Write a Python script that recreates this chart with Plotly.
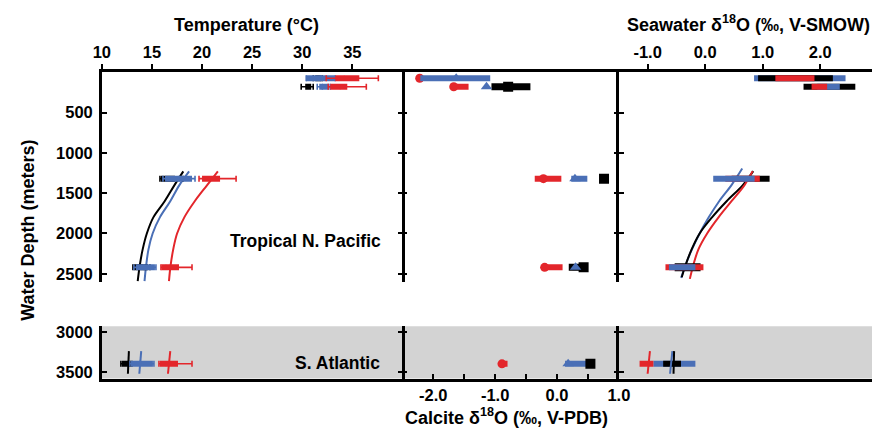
import plotly.graph_objects as go

RED = "#E3262B"
BLUE = "#4A6FB6"
BLACK = "#000000"
GRAY = "#D3D3D3"
FONT = "Liberation Sans, Arial, Helvetica, sans-serif"

# ---------------- data ----------------
# sample depths (m): four Tropical N. Pacific rows, then one S. Atlantic row
depths = [75, 180, 1320, 2420, 3400]

# Temperature (°C): centre, thick bar lo/hi, whisker lo/hi
temp_black_c = [31.6, 30.6, 16.6, 13.8, 12.5]
temp_black_lo = [31.3, 30.3, 15.9, 13.2, 12.0]
temp_black_hi = [31.9, 30.9, 17.3, 14.6, 12.9]
temp_black_wlo = [31.1, 29.9, 15.8, 13.1, 11.9]
temp_black_whi = [32.0, 31.1, 18.1, 14.8, 13.0]

temp_blue_c = [31.8, 32.0, 17.7, 14.2, 13.8]
temp_blue_lo = [30.4, 31.7, 16.3, 13.4, 12.9]
temp_blue_hi = [33.3, 32.7, 19.0, 15.3, 15.1]
temp_blue_wlo = [30.4, 31.5, 16.1, 13.2, 12.8]
temp_blue_whi = [33.3, 32.8, 19.3, 15.4, 15.2]

temp_red_c = [34.2, 33.8, 20.8, 16.4, 16.4]
temp_red_lo = [33.3, 32.8, 20.0, 15.95, 15.8]
temp_red_hi = [35.7, 34.5, 21.8, 17.7, 17.6]
temp_red_wlo = [32.4, 32.6, 19.7, 15.9, 15.7]
temp_red_whi = [37.6, 36.4, 23.4, 19.0, 19.0]

# Calcite d18O (permil, V-PDB): centre, thick bar lo/hi
calc_red_c = [-2.22, -1.67, -0.22, -0.20, -0.89]
calc_red_lo = [-2.22, -1.67, -0.36, -0.24, -0.89]
calc_red_hi = [-2.22, -1.43, 0.07, 0.09, -0.80]

calc_blue_c = [-1.63, -1.14, 0.29, 0.30, 0.18]
calc_blue_lo = [-2.21, -1.14, 0.23, 0.25, 0.13]
calc_blue_hi = [-1.08, -1.14, 0.49, 0.35, 0.50]

calc_black_c = [None, -0.79, 0.76, 0.43, 0.54]
calc_black_lo = [None, -1.06, 0.76, 0.19, 0.54]
calc_black_hi = [None, -0.43, 0.76, 0.49, 0.54]

# Seawater d18O (permil, V-SMOW): bar lo/hi
sw_black_lo = [0.92, 1.71, 0.46, -0.53, -0.73]
sw_black_hi = [2.22, 2.61, 1.12, -0.08, -0.42]
sw_blue_lo = [0.85, 1.95, 0.14, -0.63, -0.90]
sw_blue_hi = [2.44, 2.34, 0.86, -0.17, -0.17]
sw_red_lo = [1.22, 1.85, 0.35, -0.69, -1.14]
sw_red_hi = [1.90, 2.12, 0.95, -0.03, -0.90]

# Modelled profiles (Tropical N. Pacific)
prof_depth = [1230, 1400, 1600, 1800, 2000, 2200, 2400, 2590]
temp_prof_black = [18.13, 17.25, 16.27, 15.14, 14.49, 14.07, 13.78, 13.58]
temp_prof_blue = [18.71, 17.74, 16.83, 15.79, 15.07, 14.65, 14.42, 14.26]
temp_prof_red = [21.58, 20.51, 19.27, 18.23, 17.51, 17.12, 16.86, 16.70]

sw_prof_depth_blue = [1195, 1400, 1600, 1800, 2000, 2200, 2400, 2550]
sw_prof_blue = [0.644, 0.458, 0.243, 0.062, -0.096, -0.232, -0.345, -0.418]
sw_prof_depth_black = [1227, 1400, 1600, 1800, 2000, 2200, 2400, 2543]
sw_prof_black = [0.836, 0.655, 0.373, 0.119, -0.096, -0.237, -0.345, -0.407]
sw_prof_depth_red = [1227, 1400, 1600, 1800, 2000, 2200, 2400, 2563]
sw_prof_red = [0.825, 0.684, 0.458, 0.232, 0.034, -0.119, -0.209, -0.266]

# S. Atlantic profile segments
sa_seg_depth = [3240, 3525]
sa_temp_black = [12.70, 12.60]
sa_temp_blue = [13.93, 13.74]
sa_temp_red = [16.83, 16.60]
sa_sw_black = [-0.54, -0.55]
sa_sw_blue = [-0.57, -0.61]
sa_sw_red = [-0.96, -1.00]

# axis ticks
temp_ticks = [10, 15, 20, 25, 30, 35]
calc_ticks = [-2.0, -1.0, 0.0, 1.0]
calc_ticktext = ["-2.0", "-1.0", "0.0", "1.0"]
calc_minor_ticks = [-2.5, -1.5, -0.5, 0.5]
sw_ticks = [-1.0, 0.0, 1.0, 2.0]
sw_ticktext = ["-1.0", "0.0", "1.0", "2.0"]
depth_ticks_top = [500, 1000, 1500, 2000, 2500]
depth_ticks_bot = [3000, 3500]

# ---------------- figure ----------------
W, H = 883, 429
fig = go.Figure()

N_TOP = 4  # first four rows in top panels


def axes_for(panel, row):
    top = row < N_TOP
    idx = panel + 1 + (0 if top else 3)
    xa = "x" if idx == 1 else f"x{idx}"
    ya = "y" if idx == 1 else f"y{idx}"
    return xa, ya


def bars(panel, lo, hi, color, width, rows=None):
    rows = rows if rows is not None else range(len(depths))
    for top in (True, False):
        xs, ys = [], []
        for i in rows:
            if (i < N_TOP) != top or lo[i] is None:
                continue
            xs += [lo[i], hi[i], None]
            ys += [depths[i], depths[i], None]
        if not xs:
            continue
        xa, ya = axes_for(panel, 0 if top else N_TOP)
        fig.add_trace(go.Scatter(x=xs, y=ys, mode="lines", xaxis=xa, yaxis=ya,
                                 line=dict(color=color, width=width),
                                 hoverinfo="skip", connectgaps=False))


def points(panel, c, color, symbol, size, wlo=None, whi=None):
    for top in (True, False):
        idx = [i for i in range(len(depths)) if (i < N_TOP) == top and c[i] is not None]
        if not idx:
            continue
        xa, ya = axes_for(panel, 0 if top else N_TOP)
        kw = {}
        if wlo is not None:
            kw["error_x"] = dict(type="data", symmetric=False,
                                 array=[whi[i] - c[i] for i in idx],
                                 arrayminus=[c[i] - wlo[i] for i in idx],
                                 color=color, thickness=1.6, width=3)
        fig.add_trace(go.Scatter(x=[c[i] for i in idx], y=[depths[i] for i in idx],
                                 mode="markers", xaxis=xa, yaxis=ya,
                                 marker=dict(color=color, symbol=symbol, size=size),
                                 **kw))


def curve(panel, x, y, color, top=True, width=2):
    xa, ya = axes_for(panel, 0 if top else N_TOP)
    fig.add_trace(go.Scatter(x=x, y=y, mode="lines", xaxis=xa, yaxis=ya,
                             line=dict(color=color, width=width, shape="spline"),
                             hoverinfo="skip"))


# ---- Temperature panel ----
curve(0, temp_prof_black, prof_depth, BLACK)
curve(0, temp_prof_blue, prof_depth, BLUE)
curve(0, temp_prof_red, prof_depth, RED)
curve(0, sa_temp_black, sa_seg_depth, BLACK, top=False)
curve(0, sa_temp_blue, sa_seg_depth, BLUE, top=False)
curve(0, sa_temp_red, sa_seg_depth, RED, top=False)
points(0, temp_black_c, BLACK, "square", 4, temp_black_wlo, temp_black_whi)
bars(0, temp_black_lo, temp_black_hi, BLACK, 6)
points(0, temp_blue_c, BLUE, "diamond", 5, temp_blue_wlo, temp_blue_whi)
bars(0, temp_blue_lo, temp_blue_hi, BLUE, 6)
points(0, temp_red_c, RED, "circle", 5, temp_red_wlo, temp_red_whi)
bars(0, temp_red_lo, temp_red_hi, RED, 6)

# ---- Calcite panel ----
bars(1, calc_red_lo, calc_red_hi, RED, 6)
points(1, calc_red_c, RED, "circle", 9)
bars(1, calc_blue_lo, calc_blue_hi, BLUE, 6)
bars(1, calc_black_lo, calc_black_hi, BLACK, 7)
points(1, calc_black_c, BLACK, "square", 10)
points(1, calc_blue_c, BLUE, "triangle-up", 10)

# ---- Seawater panel ----
curve(2, sw_prof_blue, sw_prof_depth_blue, BLUE)
curve(2, sw_prof_black, sw_prof_depth_black, BLACK)
curve(2, sw_prof_red, sw_prof_depth_red, RED)
series = {"black": (sw_black_lo, sw_black_hi, BLACK),
          "blue": (sw_blue_lo, sw_blue_hi, BLUE),
          "red": (sw_red_lo, sw_red_hi, RED)}
row_order = [["blue", "black", "red"], ["black", "blue", "red"],
             ["black", "red", "blue"], ["black", "red", "blue"],
             ["blue", "black", "red"]]
for i, order in enumerate(row_order):
    for name in order:
        lo, hi, col = series[name]
        w = 8 if (name == "black" and i == 3) else 6
        bars(2, lo, hi, col, w, rows=[i])
curve(2, sa_sw_red, sa_seg_depth, RED, top=False)
curve(2, sa_sw_blue, sa_seg_depth, BLUE, top=False)
curve(2, sa_sw_black, sa_seg_depth, BLACK, top=False)

# ---------------- layout ----------------
def px_x(p):
    return p / W


def px_y(p):
    return 1 - p / H


xdom = [[px_x(95), px_x(402.5)], [px_x(402.5), px_x(624)], [px_x(624), 1.0]]
ydom_top = [px_y(282), px_y(70)]
ydom_bot = [px_y(380), px_y(327)]

tickfont = dict(family=FONT, size=16.5, color="black", weight="bold")
common_line = dict(showline=True, linecolor="black", linewidth=2.5,
                   showgrid=False, zeroline=False, tickcolor="black",
                   tickwidth=1.6, ticklen=5, tickfont=tickfont, fixedrange=True)

xranges = [[10, 40], [-2.5, 1.0], [-1.5, 2.9]]
layout = dict(width=W, height=H, margin=dict(l=0, r=0, t=0, b=0),
              paper_bgcolor="white", plot_bgcolor="rgba(0,0,0,0)",
              showlegend=False, font=dict(family=FONT, color="black"))

for panel in range(3):
    for top in (True, False):
        idx = panel + 1 + (0 if top else 3)
        xk = "xaxis" if idx == 1 else f"xaxis{idx}"
        yk = "yaxis" if idx == 1 else f"yaxis{idx}"
        xa = "x" if idx == 1 else f"x{idx}"
        ya = "y" if idx == 1 else f"y{idx}"
        xd = dict(common_line, domain=xdom[panel], range=xranges[panel], anchor=ya,
                  side="top" if top else "bottom", mirror=False)
        if top and panel == 0:
            xd.update(tickvals=temp_ticks, ticks="outside")
        elif top and panel == 2:
            xd.update(tickvals=sw_ticks, ticktext=sw_ticktext, ticks="outside")
        elif (not top) and panel == 1:
            xd.update(tickvals=calc_ticks, ticktext=calc_ticktext, ticks="inside",
                      minor=dict(tickvals=calc_minor_ticks, ticks="inside",
                                 ticklen=5, tickwidth=1.6, tickcolor="black",
                                 showgrid=False))
        else:
            xd.update(ticks="", showticklabels=False)
        yd = dict(common_line, domain=ydom_top if top else ydom_bot, anchor=xa,
                  range=[2598, 0] if top else [3586, 2926],
                  tickvals=depth_ticks_top if top else depth_ticks_bot,
                  ticks="inside",
                  mirror="ticks" if panel < 2 else False,
                  showline=(panel != 1),
                  showticklabels=(panel == 0), ticklabelstandoff=3)
        layout[xk] = xd
        layout[yk] = yd

fig.update_layout(**layout)

# gray S. Atlantic band
fig.add_shape(type="rect", xref="paper", yref="paper", x0=px_x(95), x1=1.0,
              y0=px_y(380), y1=px_y(327), fillcolor=GRAY, line=dict(width=0),
              layer="below")

title_font = dict(family=FONT, size=18, color="black", weight="bold")
label_font = dict(family=FONT, size=17.5, color="black", weight="bold")
ann = [
    dict(text="Temperature (°C)", x=px_x(243), y=px_y(22), font=title_font),
    dict(text="Seawater δ<sup>18</sup>O (‰, V-SMOW)", x=px_x(757), y=px_y(21), font=title_font),
    dict(text="Calcite δ<sup>18</sup>O (‰, V-PDB)", x=px_x(509), y=px_y(418), font=title_font),
    dict(text="Water Depth (meters)", x=px_x(20), y=px_y(230), textangle=-90, font=title_font),
    dict(text="Tropical N. Pacific", x=px_x(303), y=px_y(241), font=label_font),
    dict(text="S. Atlantic", x=px_x(336), y=px_y(364), font=label_font),
]
for a in ann:
    fig.add_annotation(xref="paper", yref="paper", showarrow=False,
                       xanchor="center", yanchor="middle", **a)

fig.write_html("out.html")
